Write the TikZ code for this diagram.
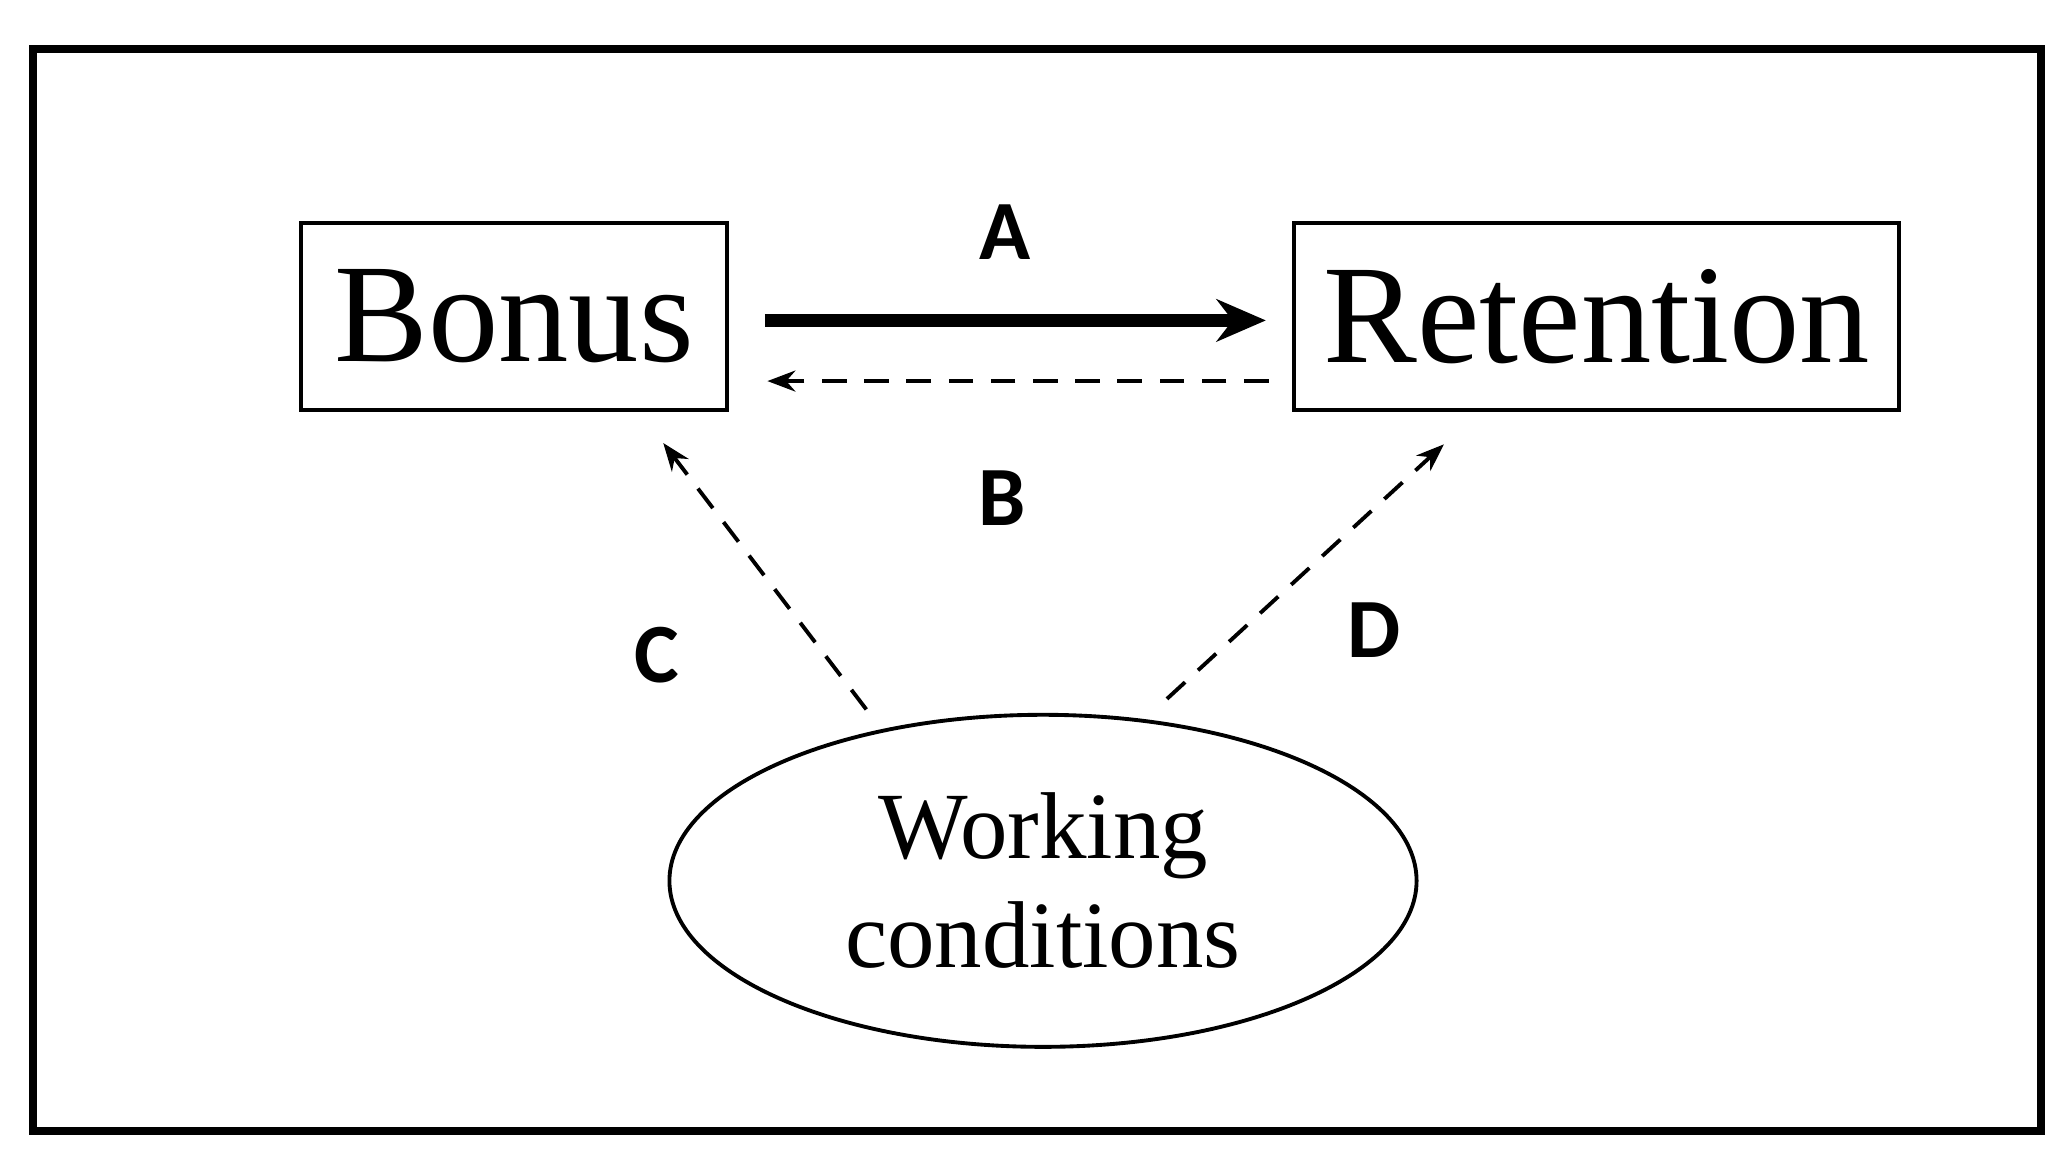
\documentclass[tikz,border=0pt]{standalone}
\usepackage{fontspec}
\setmainfont{Liberation Serif}
\newfontfamily\lblfont{Carlito}
\usetikzlibrary{arrows.meta,shapes.geometric}
\tikzset{
    >=Stealth,
    box/.style={draw,line width=1.1pt,minimum width=4.26cm,minimum height=1.87cm,font=\fontsize{40}{44}\selectfont},
    blob/.style={ellipse,draw,line width=1.1pt,minimum width=7.47cm,minimum height=3.32cm,align=center,font=\fontsize{27}{31}\selectfont},
    lbl/.style={font=\lblfont\bfseries\fontsize{24}{28}\selectfont},
    dashlink/.style={->,line width=1.1pt,dash pattern=on 7pt off 5pt}
}
\begin{document}
\begin{tikzpicture}[x=0.01319cm,y=-0.01319cm]
  \useasboundingbox (0,0) rectangle (1560,880);
  \draw[line width=2.2pt] (25,37) rectangle (1548,858);

  \node[box] (bonus) at (390,240) {Bonus};
  \node[box,minimum width=6.05cm] (ret) at (1211,240) {Retention};
  \node[blob] (work) at (791,668) {Working\\conditions};

  \coordinate (aS) at (580,243);
  \coordinate (aE) at (960,243);
  \coordinate (bS) at (962,289);
  \coordinate (bE) at (582,289);
  \coordinate (cS) at (657,538);
  \coordinate (cE) at (503,336);
  \coordinate (dS) at (885,530);
  \coordinate (dE) at (1095,337);

  \draw[-{Stealth[length=14pt,width=12pt]},line width=3.6pt] (aS) -- (aE);
  \draw[dashlink] (bS) -- (bE);
  \draw[dashlink] (cS) -- (cE);
  \draw[dashlink] (dS) -- (dE);

  \node[lbl] (a) at (762,176) {A};
  \node[lbl] (b) at (760,378) {B};
  \node[lbl] (c) at (498,497) {C};
  \node[lbl] (d) at (1042,478) {D};
\end{tikzpicture}
\end{document}
